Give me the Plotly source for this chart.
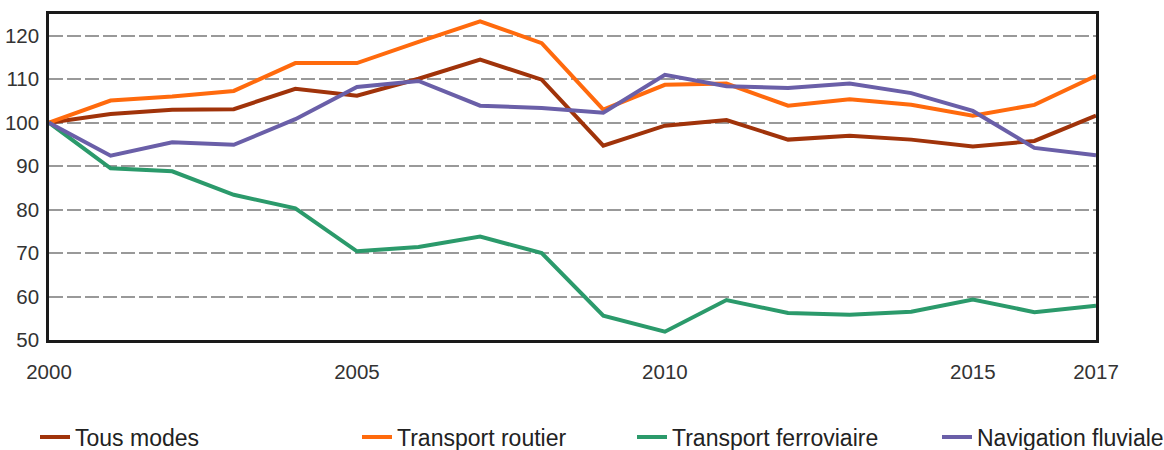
import plotly.graph_objects as go

years = list(range(2000, 2018))

tous_modes = [100, 102.0, 103.0, 103.1, 107.8, 106.2, 110.1, 114.5, 109.9, 94.7,
              99.3, 100.6, 96.1, 97.0, 96.1, 94.5, 95.8, 101.6]
transport_routier = [100, 105.1, 106.0, 107.3, 113.7, 113.7, 118.6, 123.3, 118.3, 103.0,
                     108.7, 109.0, 103.9, 105.4, 104.1, 101.6, 104.1, 110.8]
transport_ferroviaire = [100, 89.5, 88.8, 83.4, 80.3, 70.4, 71.4, 73.8, 70.0, 55.6,
                         51.9, 59.2, 56.2, 55.8, 56.5, 59.3, 56.4, 57.9]
navigation_fluviale = [100, 92.4, 95.5, 94.9, 100.8, 108.2, 109.6, 103.9, 103.4, 102.3,
                       111.0, 108.4, 108.0, 109.0, 106.8, 102.7, 94.2, 92.5]

series_names = ["Tous modes", "Transport routier", "Transport ferroviaire", "Navigation fluviale"]
series_values = [tous_modes, transport_routier, transport_ferroviaire, navigation_fluviale]
colors = ["#a0330a", "#ff6a0d", "#2b9a6b", "#6a5fa8"]

x_tickvals = [2000, 2005, 2010, 2015, 2017]
x_ticktext = ["2000", "2005", "2010", "2015", "2017"]
y_tickvals = [50, 60, 70, 80, 90, 100, 110, 120]

W, H = 1164, 450
legend_text_px = [76, 398, 673, 978]

fig = go.Figure()
legend_ids = ["legend", "legend2", "legend3", "legend4"]
for name, vals, col, lid in zip(series_names, series_values, colors, legend_ids):
    fig.add_trace(go.Scatter(
        x=years, y=vals, mode="lines", name=name,
        line=dict(color=col, width=4),
        legend=lid, hoverinfo="x+y+name",
    ))

font_family = "Liberation Sans, Arial, sans-serif"
layout_legends = {}
for lid, tx in zip(legend_ids, legend_text_px):
    layout_legends[lid] = dict(
        xref="container", yref="container",
        x=(tx - 41) / W, y=1 - 437 / H,
        xanchor="left", yanchor="middle",
        bgcolor="rgba(0,0,0,0)", borderwidth=0,
        font=dict(family=font_family, size=23, color="#222"),
        orientation="h",
    )

fig.update_layout(
    width=W, height=H,
    paper_bgcolor="white", plot_bgcolor="white",
    margin=dict(l=49, r=68, t=14, b=110, autoexpand=False),
    font=dict(family=font_family, size=21, color="#333"),
    showlegend=True,
    **layout_legends,
)

fig.update_xaxes(
    range=[2000, 2017],
    tickvals=x_tickvals, ticktext=x_ticktext,
    showgrid=False, zeroline=False, automargin=False,
    showline=True, linecolor="#1a1a1a", linewidth=2.5, mirror=True,
    ticks="", ticklabelstandoff=12,
    tickfont=dict(size=20.5, color="#333"),
)
fig.update_yaxes(
    range=[50, 125],
    tickvals=y_tickvals,
    showgrid=True, gridcolor="#999999", gridwidth=1.5, griddash="14px,4px",
    zeroline=False, automargin=False,
    showline=True, linecolor="#1a1a1a", linewidth=2.5, mirror=True,
    ticks="", ticklabelstandoff=3,
    tickfont=dict(size=20.5, color="#333"),
)

fig.write_html("out.html", config={"displayModeBar": False},
               post_script="document.body.style.margin='0';")
